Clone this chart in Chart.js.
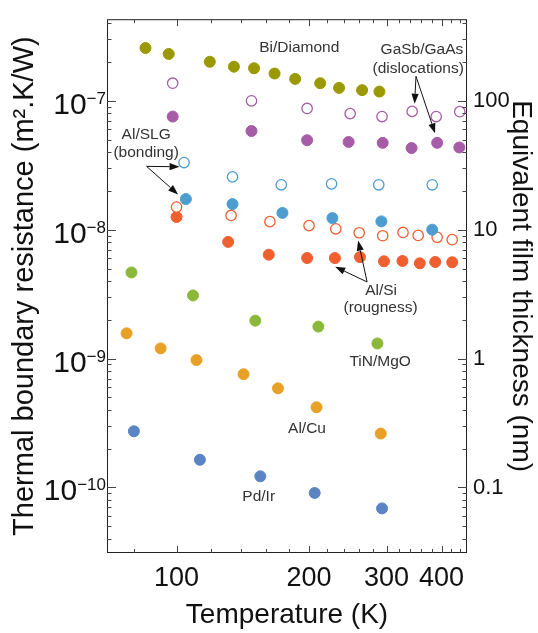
<!DOCTYPE html>
<html><head><meta charset="utf-8">
<script src="https://cdn.jsdelivr.net/npm/chart.js@4/dist/chart.umd.min.js"></script>
<style>html,body{margin:0;padding:0;background:#fff}canvas{display:block}</style>
</head><body>
<canvas id="c" width="538" height="633"></canvas>
<script>
// ---------- data (Temperature K, Thermal boundary resistance m^2.K/W) ----------
const biT = [85, 96, 119, 135, 150, 167, 186, 212, 234, 264, 289];
const biR = [2.57e-7, 2.31e-7, 2.01e-7, 1.84e-7, 1.79e-7, 1.63e-7, 1.48e-7, 1.37e-7, 1.26e-7, 1.21e-7, 1.18e-7];

const gaOpenT = [98, 148, 198, 248, 293, 343, 389, 440];
const gaOpenR = [1.37e-7, 1.0e-7, 8.73e-8, 7.96e-8, 7.55e-8, 8.28e-8, 7.55e-8, 8.24e-8];
const gaFillT = [98, 148, 198, 246, 294, 342, 391, 439];
const gaFillR = [7.55e-8, 5.83e-8, 4.95e-8, 4.80e-8, 4.72e-8, 4.30e-8, 4.72e-8, 4.35e-8];

const slgOpenT = [104, 134, 173, 225, 288, 381];
const slgOpenR = [3.32e-8, 2.57e-8, 2.23e-8, 2.27e-8, 2.23e-8, 2.23e-8];
const slgFillT = [105, 134, 174, 226, 292, 381];
const slgFillR = [1.73e-8, 1.58e-8, 1.35e-8, 1.23e-8, 1.16e-8, 1.0e-8];

const siOpenT = [100, 133, 163, 200, 230, 260, 294, 327, 354, 391, 423];
const siOpenR = [1.50e-8, 1.29e-8, 1.155e-8, 1.076e-8, 1.016e-8, 9.47e-9, 8.98e-9, 9.52e-9, 9.03e-9, 8.72e-9, 8.37e-9];
const siFillT = [100, 131, 162, 198, 229, 261, 296, 326, 357, 387, 423];
const siFillR = [1.255e-8, 8.04e-9, 6.40e-9, 6.03e-9, 6.03e-9, 6.13e-9, 5.69e-9, 5.72e-9, 5.49e-9, 5.62e-9, 5.59e-9];

const tinT = [79, 109, 151, 210, 286];
const tinR = [4.66e-9, 3.09e-9, 1.97e-9, 1.77e-9, 1.31e-9];

const cuT = [77, 92, 111, 142, 170, 208, 291];
const cuR = [1.57e-9, 1.20e-9, 9.74e-10, 7.56e-10, 5.88e-10, 4.19e-10, 2.62e-10];

const pdT = [80, 113, 155, 206, 293];
const pdR = [2.73e-10, 1.64e-10, 1.22e-10, 9.06e-11, 6.88e-11];

// ---------- ticks ----------
const xTicks = [100, 200, 300, 400];
const xMinorTicks = [80, 120, 140, 160, 180, 220, 240, 260, 280, 320, 340, 360, 380, 420, 440];
const yTicks = [1e-10, 1e-9, 1e-8, 1e-7];
const yExponents = ['\u221210', '\u22129', '\u22128', '\u22127'];
const y2Ticks = [0.1, 1, 10, 100];
const y2Labels = ['0.1', '1', '10', '100'];

// ---------- annotations (in data coordinates) ----------
const noteText = ['Bi/Diamond', 'GaSb/GaAs', '(dislocations)', 'Al/SLG', '(bonding)', 'Al/Si', '(rougness)', 'TiN/MgO', 'Al/Cu', 'Pd/Ir'];
const noteT = [190, 361, 354, 85.3, 85.3, 291.6, 290.8, 290.1, 197.9, 153.7];
const noteR = [2.58e-7, 2.50e-7, 1.76e-7, 5.47e-8, 3.96e-8, 3.35e-9, 2.47e-9, 9.45e-10, 2.87e-10, 8.49e-11];
const arrowFromT = [350, 350, 85.5, 85.5, 271, 271];
const arrowFromR = [1.55e-7, 1.55e-7, 3.10e-8, 3.10e-8, 3.93e-9, 3.93e-9];
const arrowToT = [347.4, 386.7, 101.6, 100.8, 229.3, 258.6];
const arrowToR = [9.49e-8, 5.60e-8, 3.08e-8, 1.88e-8, 5.16e-9, 8.23e-9];

const FONT = '"Liberation Sans", Arial, Helvetica, sans-serif';
const C = {
  bi: '#9a9900', ga: '#a65ca6', slg: '#4e9dd0', si: '#ef5f30',
  tin: '#8cb83a', cu: '#e8a126', pd: '#5b84c4'
};

function pts(xs, ys) { return xs.map((x, i) => ({ x: x, y: ys[i] })); }
function filled(label, xs, ys, col) {
  return { label, data: pts(xs, ys), pointRadius: 5.5, pointBorderWidth: 1,
    pointBackgroundColor: col, pointBorderColor: col, showLine: false };
}
function open(label, xs, ys, col) {
  return { label, data: pts(xs, ys), pointRadius: 5.2, pointBorderWidth: 1.3,
    pointBackgroundColor: '#ffffff', pointBorderColor: col, showLine: false };
}

const decor = {
  id: 'decor',
  afterDatasetsDraw(chart) {
    const { ctx, chartArea: a, scales } = chart;
    const x = scales.x, y = scales.y;
    ctx.save();
    // frame
    ctx.strokeStyle = '#222';
    ctx.lineWidth = 1;
    ctx.strokeRect(a.left + 0.5, a.top + 0.5, a.right - a.left - 1, a.bottom - a.top - 1);
    // ticks
    ctx.strokeStyle = '#444';
    ctx.beginPath();
    const xt = xTicks.map(v => [v, 7]).concat(xMinorTicks.map(v => [v, 4]));
    xt.forEach(([v, len]) => {
      const px = Math.round(x.getPixelForValue(v)) + 0.5;
      ctx.moveTo(px, a.bottom); ctx.lineTo(px, a.bottom - len);
      ctx.moveTo(px, a.top); ctx.lineTo(px, a.top + len);
    });
    const yt = [];
    yTicks.forEach(v => yt.push([v, 9]));
    for (let e = -11; e <= -7; e++) {
      for (let m = 2; m <= 9; m++) yt.push([m * Math.pow(10, e), 4.5]);
    }
    yt.forEach(([v, len]) => {
      if (v < y.min || v > y.max) return;
      const py = Math.round(y.getPixelForValue(v)) + 0.5;
      ctx.moveTo(a.left, py); ctx.lineTo(a.left + len, py);
      ctx.moveTo(a.right, py); ctx.lineTo(a.right - len, py);
    });
    ctx.stroke();

    // left tick labels with superscript exponents
    ctx.fillStyle = '#111';
    yTicks.forEach((v, i) => {
      const py = y.getPixelForValue(v);
      ctx.font = '17px ' + FONT;
      const ew = ctx.measureText(yExponents[i]).width;
      const right = a.left - 1;
      ctx.textAlign = 'left';
      ctx.textBaseline = 'alphabetic';
      ctx.fillText(yExponents[i], right - ew, py + 3);
      ctx.font = '30px ' + FONT;
      ctx.textAlign = 'right';
      ctx.fillText('10', right - ew, py + 13);
    });

    // annotation texts
    ctx.fillStyle = '#333';
    ctx.font = '15.5px ' + FONT;
    ctx.textAlign = 'center';
    ctx.textBaseline = 'middle';
    noteText.forEach((t, i) => {
      ctx.fillText(t, x.getPixelForValue(noteT[i]), y.getPixelForValue(noteR[i]));
    });

    // arrows
    ctx.strokeStyle = '#111';
    ctx.fillStyle = '#111';
    ctx.lineWidth = 1;
    arrowFromT.forEach((t, i) => {
      const x0 = x.getPixelForValue(t), y0 = y.getPixelForValue(arrowFromR[i]);
      const x1 = x.getPixelForValue(arrowToT[i]), y1 = y.getPixelForValue(arrowToR[i]);
      const ang = Math.atan2(y1 - y0, x1 - x0);
      const L = 10, W = 3.6;
      const bx = x1 - L * Math.cos(ang), by = y1 - L * Math.sin(ang);
      ctx.beginPath();
      ctx.moveTo(x0, y0); ctx.lineTo(bx, by); ctx.stroke();
      ctx.beginPath();
      ctx.moveTo(x1, y1);
      ctx.lineTo(bx + W * Math.sin(ang), by - W * Math.cos(ang));
      ctx.lineTo(bx - W * Math.sin(ang), by + W * Math.cos(ang));
      ctx.closePath(); ctx.fill();
    });
    ctx.restore();
  }
};

new Chart(document.getElementById('c'), {
  type: 'scatter',
  data: {
    datasets: [
      filled('Bi/Diamond', biT, biR, C.bi),
      open('GaSb/GaAs (open)', gaOpenT, gaOpenR, C.ga),
      filled('GaSb/GaAs (filled)', gaFillT, gaFillR, C.ga),
      open('Al/SLG (open)', slgOpenT, slgOpenR, C.slg),
      filled('Al/SLG (filled)', slgFillT, slgFillR, C.slg),
      open('Al/Si (open)', siOpenT, siOpenR, C.si),
      filled('Al/Si (filled)', siFillT, siFillR, C.si),
      filled('TiN/MgO', tinT, tinR, C.tin),
      filled('Al/Cu', cuT, cuR, C.cu),
      filled('Pd/Ir', pdT, pdR, C.pd)
    ]
  },
  options: {
    responsive: false,
    animation: false,
    devicePixelRatio: 1,
    layout: { padding: { top: 11, left: 0, right: 0, bottom: 0 } },
    plugins: { legend: { display: false }, tooltip: { enabled: false } },
    scales: {
      x: {
        type: 'logarithmic', position: 'bottom', min: 69.5, max: 457,
        afterBuildTicks: s => { s.ticks = xTicks.map(v => ({ value: v })); },
        afterFit: s => { s.height = 80; },
        grid: { display: false, drawTicks: false }, border: { display: false },
        ticks: { autoSkip: false, maxRotation: 0, minRotation: 0, padding: 9, color: '#111',
          font: { family: FONT, size: 27 }, callback: v => String(v) },
        title: { display: true, text: 'Temperature (K)', color: '#111',
          font: { family: FONT, size: 28 }, padding: { top: 0, bottom: 1 } }
      },
      y: {
        type: 'logarithmic', position: 'left', min: 3.1e-11, max: 4.3e-7,
        afterBuildTicks: s => { s.ticks = yTicks.map(v => ({ value: v })); },
        afterFit: s => { s.width = 107; },
        grid: { display: false, drawTicks: false }, border: { display: false },
        ticks: { display: false },
        title: { display: true, text: 'Thermal boundary resistance (m\u00b2.K/W)', color: '#111',
          font: { family: FONT, size: 29 }, padding: { top: 8, bottom: 0 } }
      },
      y2: {
        type: 'logarithmic', position: 'right', min: 0.031, max: 430,
        afterBuildTicks: s => { s.ticks = y2Ticks.map(v => ({ value: v })); },
        afterFit: s => { s.width = 71; },
        grid: { display: false, drawTicks: false }, border: { display: false },
        ticks: { padding: 6, color: '#111', font: { family: FONT, size: 22 },
          callback: v => { const i = y2Ticks.indexOf(v); return i >= 0 ? y2Labels[i] : ''; } },
        title: { display: true, text: 'Equivalent film thickness (nm)', color: '#111',
          font: { family: FONT, size: 28 }, padding: { top: 0, bottom: 0 } }
      }
    }
  },
  plugins: [decor]
});
</script>
</body></html>
